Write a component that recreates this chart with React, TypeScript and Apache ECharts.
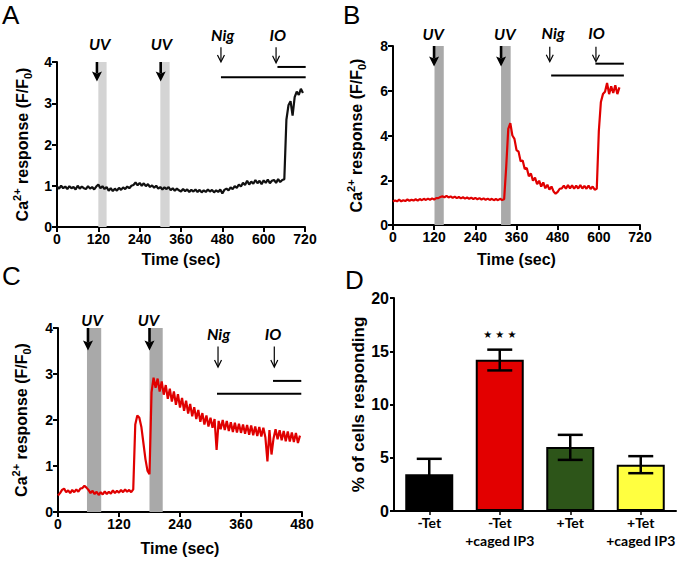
import React, { useEffect, useRef } from 'react';
import * as echarts from 'echarts';

const NARROW = '"Liberation Sans Narrow", "Arial Narrow", "Liberation Sans", Arial, sans-serif';
const CALIBRI = 'Lato, "Open Sans", "Noto Sans", sans-serif';

// ---------- Panel A (black trace, sampled every 6 s) ----------
const A_STEP = 6;
const A_VALUES = [
  0.98, 0.93, 1.0, 0.94, 0.98, 0.92, 0.99, 0.94, 0.97, 0.91,
  1.0, 0.93, 0.98, 0.94, 0.92, 0.99, 0.93, 0.97, 0.91, 0.98,
  1.03, 0.94, 0.99, 0.92, 0.97, 0.88, 0.94, 0.87, 0.93, 0.88,
  0.95, 0.9, 0.96, 0.92, 0.98, 0.94, 1.0, 1.02, 1.08, 1.01,
  1.07, 1.0, 1.06, 0.99, 1.04, 0.97, 1.01, 0.95, 1.0, 0.93,
  0.97, 0.91, 0.96, 0.92, 0.97, 0.89, 0.94, 0.88, 0.93, 0.89,
  0.86, 0.92, 0.87, 0.91, 0.85, 0.9, 0.86, 0.91, 0.85, 0.9,
  0.84, 0.89, 0.85, 0.91, 0.86, 0.9, 0.84, 0.89, 0.85, 0.91,
  0.81, 0.9, 0.93, 0.89, 0.96, 0.92, 0.99, 0.95, 1.03, 0.98,
  1.07, 1.02, 1.12, 1.03, 1.1, 1.05, 1.14, 1.06, 1.12, 1.04,
  1.13, 1.07, 1.15, 1.06, 1.12, 1.14, 1.07, 1.16, 1.09, 1.14,
  1.16, 2.6, 2.95, 3.05, 2.7, 3.15, 3.28, 3.2, 3.35, 3.25,
];
const A_UV_BANDS = [[120, 144], [300, 327]];
const A_ARROWS = [[116, 4.0, 3.53, 1], [301, 4.0, 3.53, 1], [476, 4.36, 4.0, 0], [636, 4.36, 3.98, 0]];
const A_BARS = [[476, 722, 3.63], [640, 722, 3.88]];
const A_LABEL_POS = [[124, 4.45], [303, 4.45], [481, 4.67], [641, 4.67]];
const A_LABEL_TEXT = ['UV', 'UV', 'Nig', 'IO'];

// ---------- Panel B (red trace, sampled every 6 s) ----------
const B_STEP = 6;
const B_VALUES = [
  1.05, 1.1, 1.06, 1.13, 1.06, 1.11, 1.07, 1.14, 1.08, 1.13,
  1.09, 1.15, 1.09, 1.16, 1.11, 1.17, 1.12, 1.18, 1.13, 1.19,
  1.14, 1.2, 1.2, 1.25, 1.28, 1.24, 1.3, 1.23, 1.28, 1.21,
  1.27, 1.2, 1.25, 1.19, 1.24, 1.18, 1.23, 1.17, 1.22, 1.16,
  1.21, 1.15, 1.2, 1.14, 1.19, 1.13, 1.18, 1.12, 1.17, 1.11,
  1.16, 1.11, 1.17, 1.12, 1.15, 2.6, 4.3, 4.55, 4.0, 3.85,
  3.35, 3.28, 2.85, 2.88, 2.5, 2.55, 2.18, 2.3, 1.98, 2.12,
  1.82, 1.98, 1.72, 1.9, 1.64, 1.8, 1.58, 1.72, 1.5, 1.4,
  1.48, 1.62, 1.64, 1.76, 1.62, 1.78, 1.64, 1.77, 1.62, 1.76,
  1.63, 1.78, 1.63, 1.75, 1.62, 1.76, 1.61, 1.72, 1.58, 1.62,
  4.2, 5.5, 5.85, 5.95, 6.35, 5.85, 6.2, 5.9, 6.25, 5.85,
  6.15,
];
const B_UV_BANDS = [[121, 148], [315, 343]];
const B_ARROWS = [[119.7, 8.0, 7.08, 1], [315, 8.0, 7.08, 1], [457, 7.97, 7.3, 0], [591.6, 7.97, 7.3, 0]];
const B_BARS = [[461, 673, 6.68], [590, 673, 7.21]];
const B_LABEL_POS = [[117, 8.57], [326, 8.57], [467, 8.6], [593, 8.6]];
const B_LABEL_TEXT = ['UV', 'UV', 'Nig', 'IO'];

// ---------- Panel C (red trace, sampled every 4 s) ----------
const C_STEP = 4;
const C_VALUES = [
  0.36, 0.41, 0.48, 0.51, 0.43, 0.47, 0.41, 0.48, 0.43, 0.49,
  0.44, 0.51, 0.52, 0.57, 0.53, 0.48, 0.41, 0.46, 0.39, 0.44,
  0.37, 0.43, 0.38, 0.45, 0.39, 0.44, 0.4, 0.47, 0.41, 0.46,
  0.42, 0.48, 0.43, 0.49, 0.44, 0.48, 0.43, 0.49, 1.9, 2.1,
  2.05, 1.85, 1.5, 1.15, 0.9, 0.82, 2.6, 2.92, 2.7, 2.9,
  2.62, 2.84, 2.55, 2.76, 2.46, 2.68, 2.4, 2.62, 2.33, 2.56,
  2.27, 2.48, 2.2, 2.42, 2.14, 2.35, 2.08, 2.28, 2.02, 2.22,
  1.96, 2.15, 1.9, 2.1, 1.86, 2.05, 1.83, 2.02, 1.35, 1.98,
  1.8, 2.0, 1.78, 1.98, 1.76, 1.95, 1.74, 1.94, 1.73, 1.92,
  1.72, 1.9, 1.7, 1.89, 1.68, 1.88, 1.67, 1.86, 1.65, 1.85,
  1.64, 1.83, 1.62, 1.1, 1.78, 1.25, 1.6, 1.8, 1.58, 1.78,
  1.56, 1.76, 1.54, 1.75, 1.53, 1.73, 1.52, 1.72, 1.5, 1.66,
];
const C_UV_BANDS = [[57, 85], [180, 206]];
const C_ARROWS = [[59, 4.0, 3.51, 1], [180, 4.0, 3.51, 1], [314.8, 3.6, 3.15, 0], [425.5, 3.6, 3.15, 0]];
const C_BARS = [[312.8, 478.6, 2.57], [423, 478.6, 2.85]];
const C_LABEL_POS = [[67, 4.18], [178, 4.18], [316, 3.89], [423, 3.89]];
const C_LABEL_TEXT = ['UV', 'UV', 'Nig', 'IO'];

// ---------- Panel D (bars) ----------
const D_CATEGORIES = ['-Tet', '-Tet\n+caged IP3', '+Tet', '+Tet\n+caged IP3'];
const D_MEANS = [3.45, 14.2, 6.0, 4.35];
const D_ERR_LOW = [2.0, 13.2, 4.8, 3.55];
const D_ERR_HIGH = [4.9, 15.15, 7.15, 5.15];
const D_COLORS = ['#000000', '#e30000', '#2d5519', '#ffff40'];
const D_STAR_Y = 16.6;

const RED = '#e00000';

function timeAxis(gridIndex: number, max: number, nameGap: number) {
  return {
    type: 'value', gridIndex, min: 0, max, interval: 120,
    axisLine: { show: true, onZero: false, lineStyle: { color: '#000', width: 2 } },
    axisTick: { show: true, length: 5, lineStyle: { color: '#000', width: 2 } },
    axisLabel: { color: '#000', fontSize: 14, fontWeight: 'bold', fontFamily: NARROW, margin: 5 },
    splitLine: { show: false },
    name: 'Time (sec)', nameLocation: 'middle', nameGap,
    nameTextStyle: { color: '#000', fontSize: 16, fontWeight: 'bold', fontFamily: NARROW },
  };
}

function caAxis(gridIndex: number, max: number, interval: number, nameGap: number) {
  const base = { fontFamily: NARROW, fontWeight: 'bold', color: '#000' };
  return {
    type: 'value', gridIndex, min: 0, max, interval,
    axisLine: { show: true, onZero: false, lineStyle: { color: '#000', width: 2 } },
    axisTick: { show: true, length: 5, lineStyle: { color: '#000', width: 2 } },
    axisLabel: { color: '#000', fontSize: 14, fontWeight: 'bold', fontFamily: NARROW, margin: 5 },
    splitLine: { show: false },
    name: '{a|Ca}{s|2+}{a| response (F/F}{b|0}{a|)}',
    nameLocation: 'middle', nameGap,
    nameTextStyle: {
      ...base, fontSize: 16,
      rich: {
        a: { ...base, fontSize: 16, lineHeight: 22 },
        s: { ...base, fontSize: 11, lineHeight: 12, verticalAlign: 'top' },
        b: { ...base, fontSize: 11, lineHeight: 12, verticalAlign: 'bottom' },
      },
    },
  };
}

function panelSeries(
  g: number, values: number[], step: number, color: string, yMax: number,
  bands: number[][], bandColor: string, arrows: number[][], bars: number[][],
  labelPos: number[][], labelText: string[],
) {
  return [
    {
      type: 'custom', xAxisIndex: g, yAxisIndex: g, z: 1, silent: true, clip: false,
      data: bands,
      renderItem: (params: any, api: any) => {
        const p1 = api.coord([api.value(0), yMax]);
        const p2 = api.coord([api.value(1), 0]);
        return {
          type: 'rect',
          shape: { x: p1[0], y: p1[1], width: p2[0] - p1[0], height: p2[1] - p1[1] },
          style: { fill: bandColor },
        };
      },
    },
    {
      type: 'line', xAxisIndex: g, yAxisIndex: g, z: 3, silent: true,
      data: values.map((v, i) => [i * step, v]),
      showSymbol: false, symbol: 'none',
      lineStyle: { color, width: 2.2 },
    },
    {
      type: 'custom', xAxisIndex: g, yAxisIndex: g, z: 4, silent: true, clip: false,
      data: arrows,
      renderItem: (params: any, api: any) => {
        const x = api.value(0);
        const thick = api.value(3) === 1;
        const p1 = api.coord([x, api.value(1)]);
        const p2 = api.coord([x, api.value(2)]);
        const hl = thick ? 10 : 7;
        const hw = thick ? 5 : 3.5;
        const lw = thick ? 2.6 : 1.2;
        const children: any[] = [
          {
            type: 'line',
            shape: { x1: p1[0], y1: p1[1], x2: p2[0], y2: p2[1] - (thick ? hl - 2 : 1) },
            style: { stroke: '#000', lineWidth: lw },
          },
        ];
        if (thick) {
          children.push({
            type: 'polygon',
            shape: { points: [[p2[0] - hw, p2[1] - hl], [p2[0], p2[1] - hl + 2], [p2[0] + hw, p2[1] - hl], [p2[0], p2[1]]] },
            style: { fill: '#000' },
          });
        } else {
          children.push({
            type: 'polyline',
            shape: { points: [[p2[0] - hw, p2[1] - hl], [p2[0], p2[1]], [p2[0] + hw, p2[1] - hl]] },
            style: { stroke: '#000', lineWidth: lw, fill: 'none' },
          });
        }
        return { type: 'group', children };
      },
    },
    {
      type: 'custom', xAxisIndex: g, yAxisIndex: g, z: 4, silent: true, clip: false,
      data: bars,
      renderItem: (params: any, api: any) => {
        const p1 = api.coord([api.value(0), api.value(2)]);
        const p2 = api.coord([api.value(1), api.value(2)]);
        return {
          type: 'line',
          shape: { x1: p1[0], y1: p1[1], x2: p2[0], y2: p2[1] },
          style: { stroke: '#000', lineWidth: 2 },
        };
      },
    },
    {
      type: 'custom', xAxisIndex: g, yAxisIndex: g, z: 4, silent: true, clip: false,
      data: labelPos,
      renderItem: (params: any, api: any) => {
        const p = api.coord([api.value(0), api.value(1)]);
        return {
          type: 'text', x: p[0], y: p[1],
          style: {
            text: labelText[params.dataIndex], fill: '#000',
            fontSize: 16, fontWeight: 'bold', fontStyle: 'italic', fontFamily: CALIBRI,
            align: 'center', verticalAlign: 'middle',
          },
        };
      },
    },
  ];
}

export default function App() {
  const ref = useRef<HTMLDivElement>(null);
  useEffect(() => {
    if (!ref.current) return;
    const chart = echarts.init(ref.current, undefined, { renderer: 'svg' });
    const letter = (t: string, left: number, top: number) => ({
      type: 'text', left, top,
      style: { text: t, fontSize: 26, fontFamily: '"Liberation Sans", Arial, sans-serif', fill: '#000' },
    });
    const option: any = {
      animation: false,
      backgroundColor: '#fff',
      grid: [
        { left: 57, top: 62, width: 248, height: 165 },
        { left: 393, top: 46, width: 247, height: 179 },
        { left: 58, top: 328, width: 244, height: 184 },
        { left: 394, top: 298, width: 282, height: 213 },
      ],
      xAxis: [
        timeAxis(0, 720, 24),
        timeAxis(1, 720, 26),
        timeAxis(2, 480, 28),
        {
          type: 'category', gridIndex: 3, data: D_CATEGORIES,
          axisLine: { show: true, lineStyle: { color: '#000', width: 2 } },
          axisTick: { show: true, alignWithLabel: true, length: 4, lineStyle: { color: '#000', width: 1.5 } },
          axisLabel: {
            color: '#000', fontSize: 14, fontWeight: 'bold', fontFamily: CALIBRI,
            lineHeight: 18, margin: 2, interval: 0,
          },
        },
      ],
      yAxis: [
        caAxis(0, 4, 1, 24),
        caAxis(1, 8, 2, 26),
        caAxis(2, 4, 1, 26),
        {
          type: 'value', gridIndex: 3, min: 0, max: 20, interval: 5,
          axisLine: { show: true, lineStyle: { color: '#000', width: 2 } },
          axisTick: { show: true, length: 4, lineStyle: { color: '#000', width: 2 } },
          axisLabel: { color: '#000', fontSize: 16, fontWeight: 'bold', fontFamily: NARROW, margin: 5 },
          splitLine: { show: false },
          name: '% of cells responding', nameLocation: 'middle', nameGap: 25,
          nameTextStyle: { color: '#000', fontSize: 17, fontWeight: 'bold', fontFamily: NARROW },
        },
      ],
      series: [
        ...panelSeries(0, A_VALUES, A_STEP, '#111', 4, A_UV_BANDS, '#d4d4d4', A_ARROWS, A_BARS, A_LABEL_POS, A_LABEL_TEXT),
        ...panelSeries(1, B_VALUES, B_STEP, RED, 8, B_UV_BANDS, '#a9a9a9', B_ARROWS, B_BARS, B_LABEL_POS, B_LABEL_TEXT),
        ...panelSeries(2, C_VALUES, C_STEP, RED, 4, C_UV_BANDS, '#a9a9a9', C_ARROWS, C_BARS, C_LABEL_POS, C_LABEL_TEXT),
        {
          type: 'bar', xAxisIndex: 3, yAxisIndex: 3, barWidth: 48, silent: true, z: 2,
          data: D_MEANS.map((v, i) => ({
            value: v,
            itemStyle: { color: D_COLORS[i], borderColor: '#000', borderWidth: 2 },
          })),
          markPoint: {
            symbol: 'circle', symbolSize: 0, silent: true,
            data: [{ coord: [D_CATEGORIES[1], D_STAR_Y] }],
            label: {
              show: true, position: 'inside', formatter: '★ ★ ★', color: '#000',
              fontSize: 10, fontFamily: '"DejaVu Sans", sans-serif',
            },
          },
        },
        {
          type: 'custom', xAxisIndex: 3, yAxisIndex: 3, z: 5, silent: true, clip: false,
          data: D_MEANS.map((_, i) => [i, D_ERR_LOW[i], D_ERR_HIGH[i]]),
          renderItem: (params: any, api: any) => {
            const i = api.value(0);
            const top = api.coord([i, api.value(2)]);
            const bot = api.coord([i, api.value(1)]);
            const hw = 12.5;
            const st = { stroke: '#000', lineWidth: 2.5 };
            return {
              type: 'group',
              children: [
                { type: 'line', shape: { x1: top[0], y1: top[1], x2: bot[0], y2: bot[1] }, style: st },
                { type: 'line', shape: { x1: top[0] - hw, y1: top[1], x2: top[0] + hw, y2: top[1] }, style: st },
                { type: 'line', shape: { x1: bot[0] - hw, y1: bot[1], x2: bot[0] + hw, y2: bot[1] }, style: st },
              ],
            };
          },
        },
      ],
      graphic: [
        letter('A', 2, 2),
        letter('B', 343, 2),
        letter('C', 2, 263),
        letter('D', 345, 267),
      ],
    };
    chart.setOption(option);
    return () => chart.dispose();
  }, []);
  return (
    <div
      ref={ref}
      style={{ position: 'absolute', left: 0, top: 0, width: 680, height: 562, background: '#fff' }}
    />
  );
}
